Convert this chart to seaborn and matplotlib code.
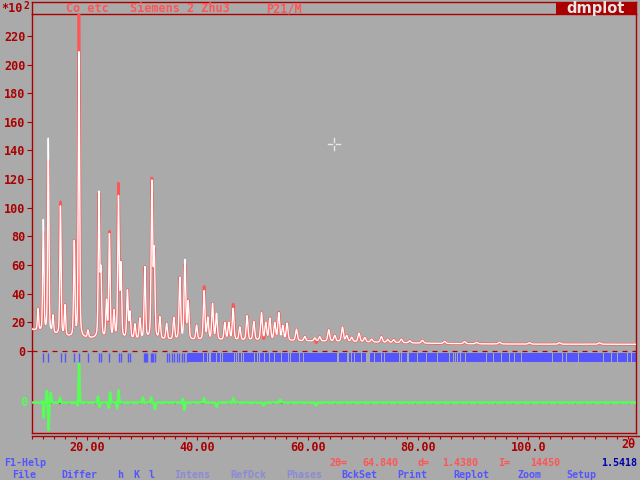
import numpy as np
import pandas as pd
import matplotlib
matplotlib.use("Agg")
import matplotlib.pyplot as plt
import seaborn as sns
from matplotlib.patches import Rectangle
from matplotlib.lines import Line2D

# ---------------- data ----------------
bg_2theta = [10, 12, 14, 16, 18, 22, 30, 40, 50, 60, 70, 80, 90, 100, 120]
bg_level = [15, 13, 11.5, 10, 9, 8.5, 8, 7.5, 7.3, 7.0, 6.3, 5.5, 5.0, 4.8, 4.7]

peak_2theta = [11.09, 12.05, 12.95, 13.8, 15.16, 15.98, 17.66, 18.51, 20.14, 22.14,
               22.50, 23.5, 24.04, 24.86, 25.67, 26.12, 27.30, 27.75, 28.66, 29.56,
               30.47, 31.74, 32.16, 33.19, 34.40, 35.72, 36.81, 37.72, 38.32, 39.84,
               41.21, 41.88, 42.74, 43.46, 44.96, 45.69, 46.47, 47.68, 49.00, 50.22,
               51.61, 52.39, 53.12, 54.02, 54.75, 55.47, 56.25, 57.95, 59.46, 61.27,
               62.17, 63.80, 64.89, 66.29, 67.07, 67.97, 69.29, 70.33, 71.59, 73.35,
               74.49, 75.58, 76.97, 78.48, 80.78, 84.82, 88.44, 90.62, 94.78, 100.2,
               105.65, 112.9]
peak_height = [15, 78, 136, 12, 90, 21, 66, 200, 5, 100,
               45, 25, 72, 18, 98, 50, 33, 18, 10, 14,
               50, 108, 60, 15, 11, 15, 43, 55, 26, 10,
               34, 15, 25, 18, 12, 12, 22, 9, 17, 13,
               19, 12, 15, 12, 19, 10, 12, 8, 3, 2,
               3, 8, 4, 10, 4, 3, 6, 3, 2, 4,
               2, 2, 2.5, 1.5, 2, 1.5, 1.5, 1, 1.2, 1,
               1, 1]

diff_2theta = [11.95, 12.08, 12.70, 13.00, 13.40, 15.10, 18.35, 18.52, 22.00, 22.20,
               23.95, 24.15, 25.50, 25.66, 30.10, 31.60, 32.30, 37.40, 37.60, 41.20,
               43.50, 46.50, 52.0, 55.0, 61.5]
diff_amp = [3, -11.5, 8.5, -19.5, 7, 3.5, -4.6, 28, 4.6, -3.5,
            -4.6, 7.7, -5.8, 10, 3.5, 3.5, -4.6, 3.5, -5.8, 3,
            -3, 3, -2, 2, -2]

tick_2theta = [12.05, 12.99, 15.20, 15.98, 17.66, 18.51, 20.09, 22.14, 22.50, 24.00,
               25.82, 26.18, 27.34, 27.75, 30.34, 30.56, 30.74, 30.89, 31.50, 31.74,
               32.01, 32.28, 34.40, 34.87, 35.31, 35.72, 36.21, 36.63, 37.12, 37.54,
               38.02]
band_start = 38.3
band_end = 119.5
band_gaps = [41.16, 41.76, 42.12, 42.43, 43.46, 44.24, 44.55, 46.78, 47.08, 47.37,
             47.99, 48.28, 50.40, 50.82, 51.18, 52.21, 53.12, 54.02, 55.24, 56.43,
             56.87, 58.55, 59.15, 65.49, 67.30, 67.92, 68.51, 69.73, 70.63, 70.92,
             71.23, 72.14, 73.35, 73.95, 76.67, 76.97, 78.17, 79.98, 81.50, 83.60,
             85.72, 86.45, 86.81, 87.23, 87.77, 88.62, 92.37, 93.75, 95.09, 96.59,
             97.50, 98.82, 104.44, 106.25, 106.97, 109.15, 113.68, 115.02, 116.21,
             117.97, 118.64]

diff_offset = -36
y_ticks = list(range(0, 221, 20))
x_major = [20, 40, 60, 80, 100]
x_major_labels = ["20.00", "40.00", "60.00", "80.00", "100.0"]

cursor_2theta = 64.840
cursor_d = 1.4380
cursor_I = 14450
wavelength = 1.5418

title_words = [("Co etc", 66), ("Siemens 2 Zhu3", 130), ("P21/M", 266)]

# ---------------- colours ----------------
GREY = "#AAAAAA"
DRED = "#AA0000"
LRED = "#FF5555"
BLUE = "#5555FF"
DBLUE = "#0000AA"
GREEN = "#55FF55"
DIM = "#8A8AD8"

# ---------------- profile ----------------
tt = np.arange(10.0, 119.6, 0.02)


def pv(x, c, fwhm, eta=0.35):
    s = fwhm / 2.3548
    g = np.exp(-0.5 * ((x - c) / s) ** 2)
    lo = 1.0 / (1.0 + ((x - c) / (fwhm / 2)) ** 2)
    return eta * lo + (1 - eta) * g


def fw(c):
    return 0.25 + 0.003 * (c - 10)


calc = np.interp(tt, bg_2theta, bg_level).copy()
for c, h in zip(peak_2theta, peak_height):
    calc += h * pv(tt, c, fw(c))
diff = np.zeros_like(tt)
for c, a in zip(diff_2theta, diff_amp):
    diff += a * pv(tt, c, fw(c) * 0.8, eta=0.1)
obs = calc + diff

df = pd.DataFrame({"tt": tt, "obs": obs, "calc": calc, "diff": diff + diff_offset})

# ---------------- figure ----------------
plt.rcParams["font.family"] = ["DejaVu Sans Mono", "DejaVu Sans"]
plt.rcParams["font.weight"] = "bold"
FS = 8.5      # axis labels
FSB = 7.2     # status / menu lines
W, H = 640, 480
fig = plt.figure(figsize=(6.4, 4.8), dpi=100, facecolor=GREY)


def fx(x):
    return x / W


def fy(y):
    return 1 - y / H


ax = fig.add_axes([fx(32), fy(433), (636 - 32) / W, (433 - 14) / H])
ax.set_facecolor(GREY)
xmin, xmax = 10, 10 + 604 / 5.515
ymin, ymax = (351 - 433) / 1.4325, (351 - 14) / 1.4325
ax.set_xlim(xmin, xmax)
ax.set_ylim(ymin, ymax)

# zero line and diff baseline
ax.axhline(0, color=DRED, lw=0.9, ls=(0, (4, 4)), zorder=1)
ax.axhline(diff_offset, color="#441111", lw=0.8, ls=(0, (1, 7)), zorder=1)

# reflection ticks
ax.vlines(tick_2theta, -7.7, -1.2, color=BLUE, lw=1.0, zorder=2)
edges = [band_start] + band_gaps + [band_end]
segs = []
for i in range(len(edges) - 1):
    a = edges[i] + (0.1 if i > 0 else 0)
    b = edges[i + 1] - (0.1 if i + 1 < len(edges) - 1 else 0)
    segs.append((a, b - a))
ax.broken_barh(segs, (-7.7, 6.5), facecolors=BLUE, edgecolor="none", zorder=2)

# curves
sns.lineplot(data=df, x="tt", y="obs", ax=ax, color=LRED, lw=1.9, estimator=None,
             sort=False, zorder=3)
sns.lineplot(data=df, x="tt", y="calc", ax=ax, color="white", lw=1.0, estimator=None,
             sort=False, zorder=4)
sns.lineplot(data=df, x="tt", y="diff", ax=ax, color=GREEN, lw=1.8, estimator=None,
             sort=False, zorder=3)

# cursor cross
cy = cursor_I / 100
px_x, px_y = 1 / 5.515, 1 / 1.4325
for sgn in (-1, 1):
    ax.plot([cursor_2theta + sgn * 2 * px_x, cursor_2theta + sgn * 6 * px_x], [cy, cy],
            color="#E8E8E8", lw=1, zorder=6)
    ax.plot([cursor_2theta, cursor_2theta], [cy + sgn * 2 * px_y, cy + sgn * 6 * px_y],
            color="#E8E8E8", lw=1, zorder=6)

# axes styling
for side in ["top", "left", "right", "bottom"]:
    ax.spines[side].set_color(DRED)
    ax.spines[side].set_linewidth(1.0)
ax.spines["bottom"].set_position(("outward", 2.3))

ax.set_yticks(y_ticks)
ax.set_yticklabels([str(v) for v in y_ticks])
ax.tick_params(axis="y", direction="out", length=3.6, width=0.8, color=DRED,
               labelcolor=DRED, labelsize=FS, pad=1.2)
ax.set_xticks(x_major)
ax.set_xticklabels(x_major_labels)
ax.set_xticks(np.arange(10, 119, 2), minor=True)
ax.tick_params(axis="x", which="major", direction="out", length=3.0, width=0.8,
               color=DRED, labelcolor=DRED, labelsize=FS, pad=0.8)
ax.tick_params(axis="x", which="minor", direction="out", length=1.8, width=0.8,
               color=DRED)
for lab in ax.get_xticklabels() + ax.get_yticklabels():
    lab.set_fontweight("bold")
ax.set_xlabel("2θ", color=DRED, fontsize=FS, fontweight="bold")
ax.xaxis.label.set_ha("right")
ax.xaxis.set_label_coords(1.0, (433 - 445) / 419)
ax.xaxis.label.set_va("center")
ax.set_ylabel("")

# green zero label of difference curve
ax.text(-5 / 604, diff_offset, "0", transform=ax.get_yaxis_transform(), ha="right",
        va="center", color=GREEN, fontsize=FS, fontweight="bold")

# frame line at plot bottom and lower axis extension
fig.add_artist(Line2D([fx(32), fx(636)], [fy(433), fy(433)], color=DRED, lw=1.0))
fig.add_artist(Line2D([fx(636), fx(640)], [fy(436), fy(436)], color=DRED, lw=1.0))

# header box
fig.add_artist(Line2D([fx(32), fx(636)], [fy(2), fy(2)], color=DRED, lw=1.0))
fig.add_artist(Line2D([fx(32), fx(32)], [fy(2), fy(14)], color=DRED, lw=1.0))
fig.add_artist(Line2D([fx(636), fx(636)], [fy(2), fy(14)], color=DRED, lw=1.0))
fig.add_artist(Rectangle((fx(556), fy(14)), fx(636) - fx(556), fy(2) - fy(14),
                         facecolor=DRED, edgecolor="none"))
fig.text(fx(596), fy(8.5), "dmplot", ha="center", va="center", color="#E6E6E6",
         fontsize=10.5, fontweight="bold", family="DejaVu Sans")
for word, x0 in title_words:
    fig.text(fx(x0), fy(8.5), word, ha="left", va="center", color=LRED,
             fontsize=FS, fontweight="bold")
fig.text(fx(1), fy(9), "*10", ha="left", va="center", color=DRED, fontsize=FS,
         fontweight="bold")
fig.text(fx(23), fy(6), "2", ha="left", va="center", color=DRED, fontsize=7,
         fontweight="bold")

# status line (word positions follow the DOS character grid)
fig.text(fx(4), fy(463), "F1-Help", ha="left", va="center", color=BLUE, fontsize=FSB,
         fontweight="bold")
status_words = [("2θ=", 330), ("{:.3f}".format(cursor_2theta), 362), ("d=", 418),
                ("{:.4f}".format(cursor_d), 442), ("I=", 498),
                ("{:d}".format(cursor_I), 530)]
for word, x0 in status_words:
    fig.text(fx(x0), fy(463), word, ha="left", va="center", color=LRED,
             fontsize=FSB, fontweight="bold")
fig.text(fx(637), fy(463), "{:.4f}".format(wavelength), ha="right", va="center",
         color=DBLUE, fontsize=FSB, fontweight="bold")

# menu line
menu = [("File", 12, BLUE), ("Differ", 61, BLUE), ("h", 117, BLUE), ("K", 133, BLUE),
        ("l", 149, BLUE), ("Intens", 174, DIM), ("RefDck", 230, DIM),
        ("Phases", 286, DIM), ("BckSet", 341, BLUE), ("Print", 397, BLUE),
        ("Replot", 453, BLUE), ("Zoom", 518, BLUE), ("Setup", 566, BLUE)]
for txt, x0, col in menu:
    fig.text(fx(x0), fy(475), txt, ha="left", va="center", color=col, fontsize=FSB,
             fontweight="bold")

fig.savefig("out.png", dpi=100, facecolor=GREY)
